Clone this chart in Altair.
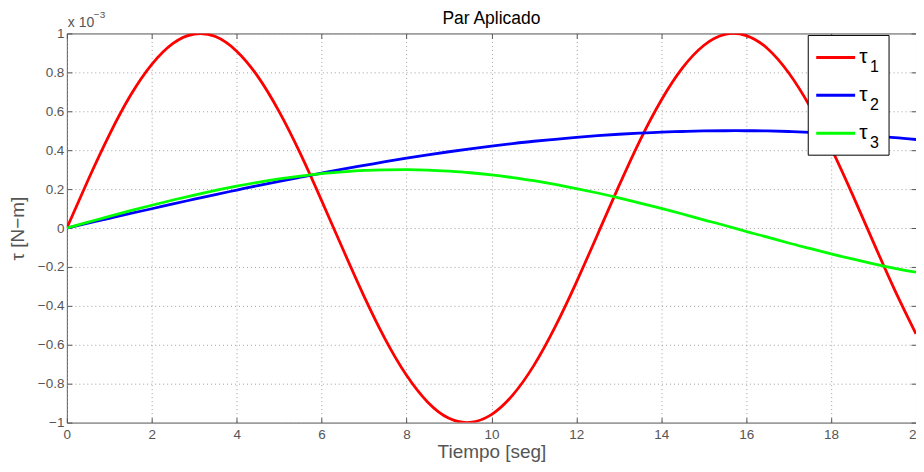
import altair as alt
import pandas as pd

# ---- data (values in units of 1e-3 N-m) ----
t = [0.0, 0.5, 1.0, 1.5, 2.0, 2.5, 3.0, 3.5, 4.0, 4.5, 5.0, 5.5, 6.0, 6.5, 7.0, 7.5,
     8.0, 8.5, 9.0, 9.5, 10.0, 10.5, 11.0, 11.5, 12.0, 12.5, 13.0, 13.5, 14.0, 14.5,
     15.0, 15.5, 16.0, 16.5, 17.0, 17.5, 18.0, 18.5, 19.0, 19.5, 20.0]

tau1 = [0.000, 0.247, 0.479, 0.682, 0.841, 0.949, 0.997, 0.984, 0.909, 0.778,
        0.598, 0.382, 0.141, -0.108, -0.351, -0.572, -0.757, -0.895, -0.978, -0.999,
        -0.959, -0.859, -0.706, -0.508, -0.279, -0.033, 0.215, 0.451, 0.657, 0.823,
        0.938, 0.995, 0.989, 0.923, 0.798, 0.625, 0.412, 0.174, -0.075, -0.319, -0.544]

tau2 = [0.000, 0.025, 0.050, 0.075, 0.099, 0.124, 0.148, 0.172, 0.195, 0.218,
        0.240, 0.261, 0.282, 0.303, 0.322, 0.341, 0.359, 0.376, 0.392, 0.407,
        0.421, 0.434, 0.446, 0.456, 0.466, 0.475, 0.482, 0.488, 0.493, 0.496,
        0.499, 0.500, 0.500, 0.499, 0.496, 0.492, 0.487, 0.481, 0.473, 0.465, 0.455]

tau3 = [0.000, 0.030, 0.060, 0.089, 0.117, 0.144, 0.169, 0.193, 0.215, 0.235,
        0.252, 0.267, 0.280, 0.289, 0.296, 0.299, 0.300, 0.298, 0.292, 0.284,
        0.273, 0.259, 0.243, 0.224, 0.203, 0.180, 0.155, 0.128, 0.101, 0.072,
        0.042, 0.013, -0.018, -0.047, -0.077, -0.105, -0.133, -0.159, -0.184, -0.207, -0.227]

series_names = ["τ1", "τ2", "τ3"]
series_colors = ["#ff0000", "#0000ff", "#00ff00"]
x_ticks = [0, 2, 4, 6, 8, 10, 12, 14, 16, 18, 20]
y_ticks = [-1.0, -0.8, -0.6, -0.4, -0.2, 0.0, 0.2, 0.4, 0.6, 0.8, 1.0]

df = pd.DataFrame({
    "t": t * 3,
    "tau": tau1 + tau2 + tau3,
    "serie": [series_names[0]] * len(t) + [series_names[1]] * len(t) + [series_names[2]] * len(t),
})
one = pd.DataFrame({"k": [0]})

FONT = "Liberation Sans"
GRAY = "#555555"
W, H = 851, 390

xscale = alt.Scale(domain=[0, 20], nice=False, zero=False)
yscale = alt.Scale(domain=[-1, 1], nice=False, zero=False)

x_axis = alt.Axis(orient="bottom", values=x_ticks, title="Tiempo [seg]", format="d",
                  grid=True, gridDash=[1, 3], gridColor="#a0a0a0", gridWidth=1,
                  domain=False, tickSize=5, offset=-5, tickColor=GRAY, tickWidth=1,
                  labelPadding=5, labelFontSize=13.5, labelColor=GRAY, labelFont=FONT,
                  labelFlush=False, labelOverlap=False,
                  titleFontSize=19, titleColor=GRAY, titleFont=FONT,
                  titleFontWeight="normal", titlePadding=1)
y_axis = alt.Axis(orient="left", values=y_ticks, title="τ [N−m]", format=".1~f",
                  grid=True, gridDash=[1, 3], gridColor="#a0a0a0", gridWidth=1,
                  domain=False, tickSize=5, offset=-5, tickColor=GRAY, tickWidth=1,
                  labelPadding=3, labelFontSize=13.5, labelColor=GRAY, labelFont=FONT,
                  labelFlush=False, labelOverlap=False,
                  titleFontSize=19, titleColor=GRAY, titleFont=FONT,
                  titleFontWeight="normal", titlePadding=10)

lines = alt.Chart(df).mark_line(strokeWidth=2.8, interpolate="natural", clip=True).encode(
    x=alt.X("t:Q", scale=xscale, axis=x_axis),
    y=alt.Y("tau:Q", scale=yscale, axis=y_axis),
    color=alt.Color("serie:N", scale=alt.Scale(domain=series_names, range=series_colors), legend=None),
)

# top / right inward ticks (MATLAB box style)
frame_ticks = alt.Chart(df).mark_point(opacity=0).encode(
    x=alt.X("t:Q", scale=xscale,
            axis=alt.Axis(orient="top", values=x_ticks, labels=False, title=None, grid=False,
                          domain=False, tickSize=5, offset=-5, tickColor=GRAY)),
    y=alt.Y("tau:Q", scale=yscale,
            axis=alt.Axis(orient="right", values=y_ticks, labels=False, title=None, grid=False,
                          domain=False, tickSize=5, offset=-5, tickColor=GRAY)),
)

def txt(s, x, y, size, color, align="left"):
    return alt.Chart(one).mark_text(text=s, font=FONT, fontSize=size, color=color,
                                    align=align, baseline="alphabetic").encode(
        x=alt.value(x), y=alt.value(y))

title = txt("Par Aplicado", W / 2, -9, 17.5, "#000000", align="center")
exp1 = txt("x 10", 1, -6, 14, GRAY)
exp2 = txt("−3", 27, -15, 10, GRAY)

legend_box = alt.Chart(one).mark_rect(fill="white", stroke="black", strokeWidth=1).encode(
    x=alt.value(743), x2=alt.value(824), y=alt.value(2), y2=alt.value(122))

legend_layers = [legend_box]
for i, (name, col) in enumerate(zip(series_names, series_colors)):
    yy = 24 + 38 * i
    legend_layers.append(
        alt.Chart(one).mark_rule(color=col, strokeWidth=3).encode(
            x=alt.value(751), x2=alt.value(790), y=alt.value(yy)))
    legend_layers.append(txt("τ", 794, yy + 6, 21, "#000000"))
    legend_layers.append(txt(name[1], 805, yy + 15, 16, "#000000"))

chart = alt.layer(frame_ticks, lines, title, exp1, exp2, *legend_layers).properties(
    width=W, height=H,
    autosize=alt.AutoSizeParams(type="none"),
    padding={"left": 59, "top": 25, "right": 0, "bottom": 40},
).configure_view(stroke=GRAY, strokeWidth=1)

chart.save("out.html", embed_options={"renderer": "svg", "actions": False})
